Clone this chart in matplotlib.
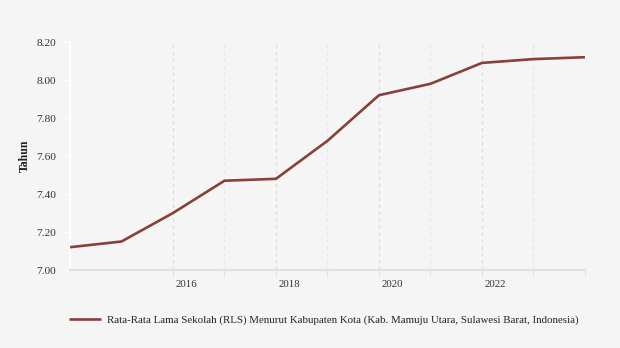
import numpy as np
import matplotlib.pyplot as plt
import matplotlib.transforms as mtransforms

# Data
years = [2014, 2015, 2016, 2017, 2018, 2019, 2020, 2021, 2022, 2023, 2024]
rls = [7.12, 7.15, 7.30, 7.47, 7.48, 7.68, 7.92, 7.98, 8.09, 8.11, 8.12]
major_years = [2016, 2018, 2020, 2022]
minor_years = [2017, 2019, 2021, 2023, 2024]
y_ticks = [7.00, 7.20, 7.40, 7.60, 7.80, 8.00, 8.20]
series_name = "Rata-Rata Lama Sekolah (RLS) Menurut Kabupaten Kota (Kab. Mamuju Utara, Sulawesi Barat, Indonesia)"

plt.rcParams['font.family'] = ['Liberation Serif', 'DejaVu Serif']

bg = '#f5f5f5'
line_col = '#87403a'

fig = plt.figure(figsize=(6.2, 3.48), dpi=100, facecolor=bg)
ax = fig.add_axes([0.1129, 0.2241, 0.8306, 0.6552], facecolor=bg)

ax.plot(years, rls, color=line_col, lw=1.9, solid_capstyle='butt', zorder=3,
        label=series_name)

ax.set_xlim(2014, 2024)
ax.set_ylim(7.0, 8.2)

# grid lines
for yr in major_years:
    ax.axvline(yr, color='#dddddd', lw=1, ls=(0, (2.5, 2.5)), zorder=1)
for yr in minor_years:
    ax.axvline(yr, color='#e8e8e8', lw=1, ls=(0, (2.5, 2.5)), zorder=1)

ax.set_xticks(major_years)
ax.set_xticklabels([str(y) for y in major_years])
ax.set_xticks(minor_years, minor=True)
ax.tick_params(axis='x', which='both', length=5, color='#e0e0e0', labelsize=7.8,
               labelcolor='#333333', pad=2)
offset = mtransforms.ScaledTranslation(3 / 100, 0, fig.dpi_scale_trans)
for lab in ax.get_xticklabels():
    lab.set_horizontalalignment('left')
    lab.set_transform(lab.get_transform() + offset)

ax.set_yticks(y_ticks)
ax.set_yticklabels(['%.2f' % v for v in y_ticks])
ax.tick_params(axis='y', length=4, color='white', labelsize=8.2,
               labelcolor='#333333', pad=6)

for s in ['top', 'right']:
    ax.spines[s].set_visible(False)
ax.spines['left'].set_color('white')
ax.spines['left'].set_linewidth(1.5)
ax.spines['bottom'].set_color('#e0e0e0')
ax.spines['bottom'].set_linewidth(1.5)

ax.set_ylabel('Tahun', fontsize=8.5, fontweight='bold', color='#222222', labelpad=4)

leg = fig.legend(loc='center left', bbox_to_anchor=(0.095, 0.08), frameon=False,
                 fontsize=7.85, handlelength=3.0, handletextpad=0.5)
for t in leg.get_texts():
    t.set_color('#222222')

fig.savefig('out.png', dpi=100, facecolor=bg)
